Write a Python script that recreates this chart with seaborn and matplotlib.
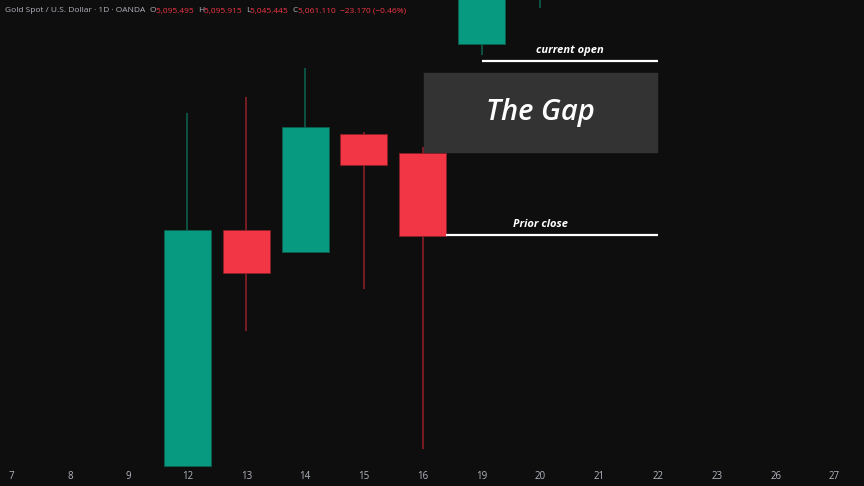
import matplotlib
matplotlib.use("Agg")
import matplotlib.pyplot as plt
import seaborn as sns
import numpy as np

# --- data (daily candles) ---
days = ["7", "8", "9", "12", "13", "14", "15", "16", "19", "20", "21", "22", "23", "26", "27"]
opens = [np.nan, np.nan, np.nan, 4970.2, 5041.0, 5034.4, 5069.8, 5064.1, 5096.8, 5125.0] + [np.nan] * 5
closes = [np.nan, np.nan, np.nan, 5041.0, 5028.1, 5071.9, 5060.5, 5039.2, 5119.0, 5135.0] + [np.nan] * 5
highs = [np.nan, np.nan, np.nan, 5076.1, 5080.9, 5089.6, 5070.4, 5065.9, 5125.0, 5140.0] + [np.nan] * 5
lows = [np.nan, np.nan, np.nan, 4970.2, 5010.7, 5034.4, 5023.3, 4975.3, 5093.5, 5107.6] + [np.nan] * 5

prior_close = 5039.5
current_open = 5091.7
gap_box = (5064.4, 5088.1)

header_parts = [("Gold Spot / U.S. Dollar · 1D · OANDA  ", "#b2b5be"),
                ("O", "#b2b5be"), ("5,095.495  ", "#f23645"),
                ("H", "#b2b5be"), ("5,095.915  ", "#f23645"),
                ("L", "#b2b5be"), ("5,045.445  ", "#f23645"),
                ("C", "#b2b5be"), ("5,061.110  ", "#f23645"),
                ("−23.170 (−0.46%)", "#f23645")]

UP, DOWN = "#089981", "#f23645"
UP_WICK, DOWN_WICK = "#0b5e4c", "#8a1f27"
BG = "#0e0e0e"

sns.set_theme(style="dark", rc={"axes.facecolor": BG, "figure.facecolor": BG,
                                "axes.edgecolor": BG, "grid.color": BG})
plt.rcParams["font.family"] = ["Open Sans", "DejaVu Sans"]

fig = plt.figure(figsize=(8.64, 4.86), dpi=100)
ax = fig.add_axes([0, 0.04, 1, 0.96])

x = np.arange(len(days))
o, c, h, l = map(np.array, (opens, closes, highs, lows))
up = c >= o
body_col = np.where(up, UP, DOWN)
wick_col = np.where(up, UP_WICK, DOWN_WICK)

for i in x:
    if np.isnan(o[i]):
        continue
    ax.vlines(i, l[i], h[i], color=wick_col[i], lw=1.2, zorder=1)
    lo, hi = min(o[i], c[i]), max(o[i], c[i])
    ax.bar(i, hi - lo, bottom=lo, width=0.8, color=body_col[i],
           edgecolor=wick_col[i], linewidth=0.6, zorder=2)

# gap annotation
ax.fill_between([7.02, 10.98], gap_box[0], gap_box[1], color="#333333", zorder=0)
ax.text(9.0, sum(gap_box) / 2, "The Gap", color="white", fontsize=21,
        style="italic", weight="semibold", ha="center", va="center")
ax.hlines(current_open, 8.0, 11.0, color="white", lw=1.6)
ax.text(9.5, current_open + 1.5, "current open", color="white", fontsize=8,
        style="italic", weight="bold", ha="center", va="bottom")
ax.hlines(prior_close, 7.4, 11.0, color="white", lw=1.6)
ax.text(9.0, prior_close + 1.5, "Prior close", color="white", fontsize=8,
        style="italic", weight="bold", ha="center", va="bottom")

ax.set_xlim(-0.187, 14.5)
ax.set_ylim(4970, 5110)
ax.set_xticks(x)
ax.set_xticklabels(days)
ax.set_yticks([])
ax.tick_params(axis="x", length=0, pad=3, labelsize=7, labelcolor="#b2b5be")
ax.grid(False)
for s in ax.spines.values():
    s.set_visible(False)

# header with mixed colours
fig.canvas.draw()
r = fig.canvas.get_renderer()
xpos = 5
for txt, col in header_parts:
    t = fig.text(xpos / 864, 1 - 11 / 486, txt, color=col, fontsize=6,
                 va="center", ha="left")
    xpos += t.get_window_extent(renderer=r).width

fig.savefig("out.png", dpi=100, facecolor=BG)
